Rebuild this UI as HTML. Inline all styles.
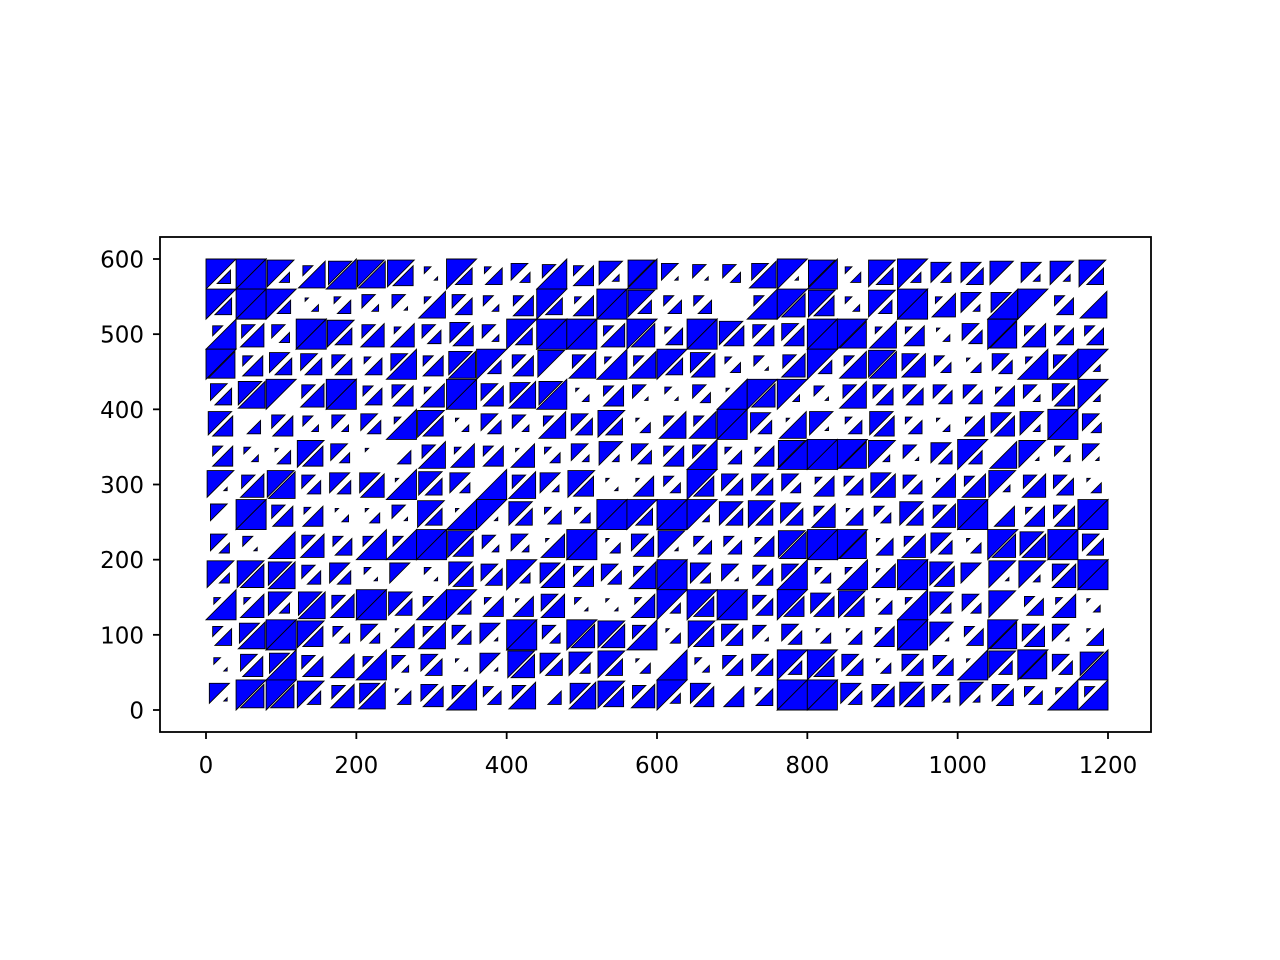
<!DOCTYPE html>
<html><head><meta charset="utf-8"><style>
body{margin:0;background:#fff}
svg{display:block}
text{font-family:"DejaVu Sans","Liberation Sans",sans-serif;font-size:23px;fill:#000}
</style></head><body>
<svg id="chart" width="1280" height="960">
<rect width="1280" height="960" fill="#fff"/>
<g id="marks"></g>
<rect x="160" y="237" width="991" height="495" fill="none" stroke="#000" stroke-width="1.8"/>
<g id="axes"></g>
</svg>
<script>
// sizes (0-9) per cell: pairs of upper-left triangle size, lower-right triangle size; rows listed from top (y=560) to bottom (y=0)
const rowSizes = [
"949983387988862195255349367289514143589189238593636570627285",
"959994122442412845323695269984343400399786228499276269903508",
"394743998547274466429599993797259976465699982826125498373535",
"983665554525593678944680482938956723314794388857331354294992",
"557890479935462799566879123641214319979231484545444426425692",
"760446324254298612544238558513383899641871247624122666729953",
"362214865310044827361723527254364924268999988241649408813251",
"814788446467197563094862861116339655555326356744173782474513",
"509946261213418519917524239995999275856537153375479906264699",
"533108473539399986425217991356813434268899981537641397779955",
"838778446421602176559367365438996351455923291799766081825799",
"292773784799753994261657211127939699459666861429735380352712",
"356899863353173844619943978749138655415413142699713598565115",
"215669460739425511618765738513092245559496551355451984985479",
"619797844768145649344804688647936606259999645676527255342939"
];
const xCategories = [0,40,80,120,160,200,240,280,320,360,400,440,480,520,560,600,640,680,720,760,800,840,880,920,960,1000,1040,1080,1120,1160];
const yCategories = [560,520,480,440,400,360,320,280,240,200,160,120,80,40,0];
const cellSize = 40;
const xTicks = [0,200,400,600,800,1000,1200];
const yTicks = [0,100,200,300,400,500,600];

const X = v => 206 + v*(902/1200);
const Y = v => 710 - v*(451/600);
const NS = "http://www.w3.org/2000/svg";
const marks = document.getElementById('marks');
function tri(pts, scale, name){
  const cx = (pts[0][0]+pts[1][0]+pts[2][0])/3, cy = (pts[0][1]+pts[1][1]+pts[2][1])/3;
  const p = document.createElementNS(NS,'polygon');
  p.setAttribute('points', pts.map(q=>(cx+(q[0]-cx)*scale).toFixed(2)+','+(cy+(q[1]-cy)*scale).toFixed(2)).join(' '));
  p.setAttribute('fill','#0000ff');
  p.setAttribute('stroke','#000');
  p.setAttribute('stroke-width','0.9');
  
  
  marks.appendChild(p);
}
rowSizes.forEach((row, r) => {
  const s = row.replace(/\s/g,'').padEnd(60,'5');
  xCategories.forEach((x0, c) => {
    const y0 = yCategories[r];
    const a = Number(s[2*c])/9, b = Number(s[2*c+1])/9;
    const L = X(x0), R = X(x0+cellSize), T = Y(y0+cellSize), B = Y(y0);
    if (a>0.05) tri([[L,T],[R,T],[L,B]], a, 'triangle-upper');
    if (b>0.05) tri([[R,B],[L,B],[R,T]], b, 'triangle-lower');
  });
});
const axes = document.getElementById('axes');
xTicks.forEach(t => {
  const l = document.createElementNS(NS,'line');
  l.setAttribute('x1',X(t)); l.setAttribute('x2',X(t)); l.setAttribute('y1',732); l.setAttribute('y2',739);
  l.setAttribute('stroke','#000'); l.setAttribute('stroke-width','1.8');
  
  
  axes.appendChild(l);
  const tx = document.createElementNS(NS,'text');
  tx.setAttribute('x',X(t)); tx.setAttribute('y',773); tx.setAttribute('text-anchor','middle');
  tx.textContent = t;
  
  
  axes.appendChild(tx);
});
yTicks.forEach(t => {
  const l = document.createElementNS(NS,'line');
  l.setAttribute('x1',153); l.setAttribute('x2',160); l.setAttribute('y1',Y(t)); l.setAttribute('y2',Y(t));
  l.setAttribute('stroke','#000'); l.setAttribute('stroke-width','1.8');
  
  
  axes.appendChild(l);
  const tx = document.createElementNS(NS,'text');
  tx.setAttribute('x',144); tx.setAttribute('y',Y(t)+8.5); tx.setAttribute('text-anchor','end');
  tx.textContent = t;
  
  
  axes.appendChild(tx);
});
</script>
</body></html>
